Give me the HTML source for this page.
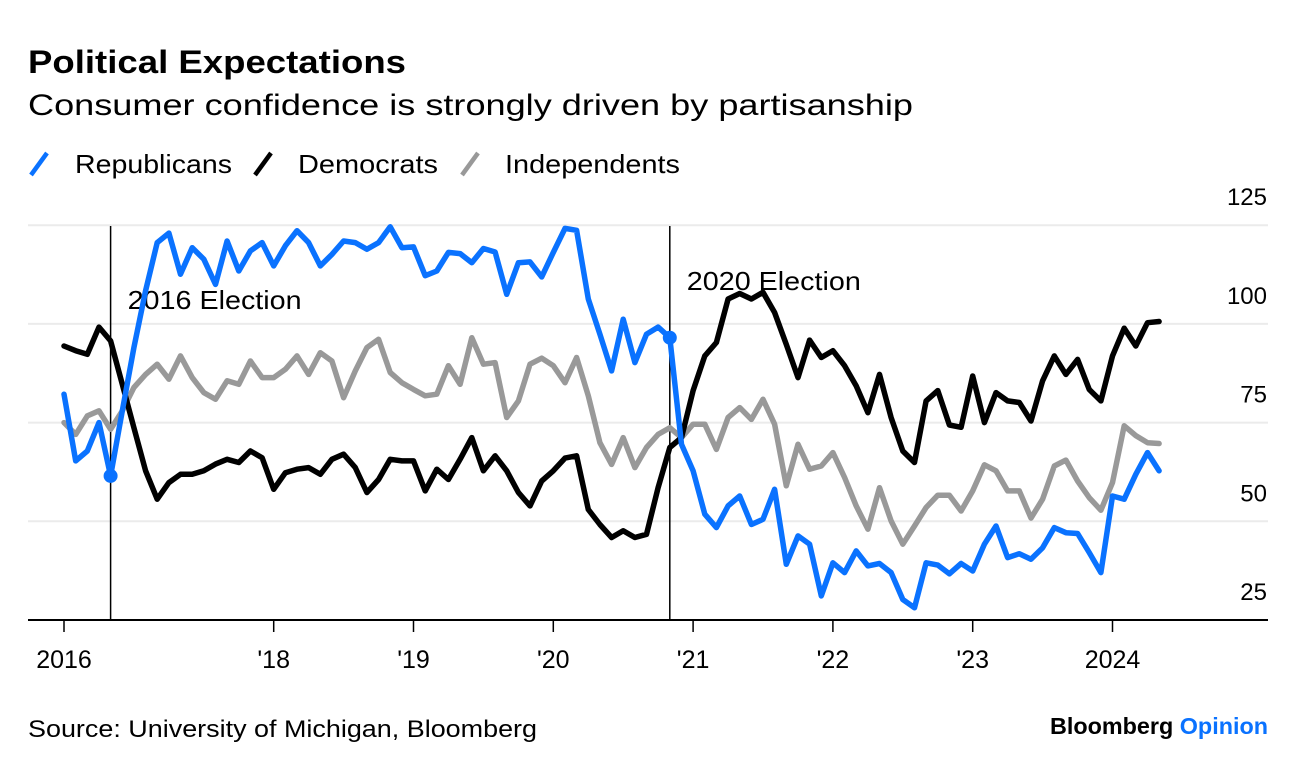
<!DOCTYPE html>
<html><head><meta charset="utf-8"><style>
body{margin:0;background:#fff;width:1296px;height:770px;overflow:hidden;font-family:"Liberation Sans",sans-serif}
</style></head><body>
<svg width="1296" height="770" xmlns="http://www.w3.org/2000/svg" font-family="Liberation Sans, sans-serif">
<text x="28" y="73" font-size="32" font-weight="bold" textLength="378" lengthAdjust="spacingAndGlyphs">Political Expectations</text>
<text x="28" y="115" font-size="30" textLength="885" lengthAdjust="spacingAndGlyphs">Consumer confidence is strongly driven by partisanship</text>
<g font-size="26">
<g><line x1="31" y1="175" x2="47" y2="153" stroke="#0a72ff" stroke-width="4.5"/><text x="75" y="173" textLength="157" lengthAdjust="spacingAndGlyphs">Republicans</text></g>
<g><line x1="255" y1="175" x2="271" y2="153" stroke="#000" stroke-width="4.5"/><text x="298" y="173" textLength="140" lengthAdjust="spacingAndGlyphs">Democrats</text></g>
<g><line x1="462" y1="175" x2="478" y2="153" stroke="#999" stroke-width="4.5"/><text x="505" y="173" textLength="175" lengthAdjust="spacingAndGlyphs">Independents</text></g>
</g>
<g id="grid"></g><g id="xaxis"></g><g id="ann"></g><g id="series"></g>
<text x="28" y="737" font-size="24" textLength="509" lengthAdjust="spacingAndGlyphs">Source: University of Michigan, Bloomberg</text>
<text x="1050" y="734" font-size="23" font-weight="bold" textLength="218" lengthAdjust="spacingAndGlyphs">Bloomberg <tspan fill="#0a72ff">Opinion</tspan></text>
</svg>
<script>
const yTicks=[25,50,75,100,125];
const xTickMonths=[0,18,30,42,54,66,78,90];
const xTickLabels=["2016","'18","'19","'20","'21","'22","'23","2024"];
const electionMonths=[4,52];
const electionLabels=["2016 Election","2020 Election"];
const republicans=[82.2,65.3,67.8,75,61.5,78,94,108.4,120.6,123,112.6,119.3,116.4,110,121,113.4,118.5,120.6,114.7,119.8,123.6,120.6,114.7,117.6,121,120.6,118.9,120.6,124.6,119.3,119.5,112.2,113.4,118.1,117.8,115.5,119.1,118.2,107.5,115.5,115.7,111.9,118.1,124.2,123.7,106.3,97.4,88.1,101.2,90.2,97.4,99.2,96.5,69.5,62.8,51.8,48.4,53.9,56.4,49.2,50.5,58.1,39.1,46.3,44.2,31.1,39.5,37,42.5,38.7,39.3,37,30.2,28.1,39.5,38.9,36.7,39.3,37.4,44.2,48.8,40.8,41.8,40.4,43.3,48.4,47.1,46.9,42.1,37,56.4,55.6,61.9,67.4,62.8];
const democrats=[94.4,93.2,92.3,99.2,95.7,84.7,73.7,62.8,55.6,59.8,61.9,61.9,62.8,64.5,65.7,64.9,67.8,66.1,58.1,62.3,63.2,63.6,61.9,65.7,67,63.6,57.3,60.6,65.7,65.3,65.3,57.7,63.2,60.6,65.7,71.2,62.8,66.6,62.8,57.3,53.9,60.2,62.8,66,66.6,53,49.2,45.9,47.6,45.9,46.7,58.5,68.7,71.2,83.1,91.9,95.3,106.3,107.7,106.3,108,102.9,94.8,86.4,95.9,91.5,93.2,89.4,84.3,77.5,87.2,76.3,67.8,64.9,80.5,83.1,74.4,73.8,86.8,75,82.6,80.5,80.1,75.4,85.6,91.9,87.2,91,83.4,80.5,91.9,98.9,94.4,100.3,100.6];
const independents=[75,72,76.7,78,73.3,78,83.9,87.2,89.8,86,91.9,86.4,82.6,80.9,85.6,84.7,90.6,86.4,86.4,88.5,91.9,87.2,92.7,90.6,81.3,88.1,94,96.1,87.7,85.1,83.4,81.8,82.2,89.4,84.7,96.5,89.8,90.2,76.3,80.5,89.8,91.3,89.4,85.1,91.5,81.8,69.9,64.4,71.2,63.6,68.7,72,73.7,71.2,74.6,74.6,68.2,76.3,78.8,75.8,80.9,74.6,59,69.5,63.2,64,67.4,61.1,53.9,48,58.5,50.1,44.2,48.8,53.5,56.6,56.6,52.6,57.7,64.3,62.8,57.7,57.7,50.8,55.6,64,65.5,60.2,56,52.8,59.8,74.2,71.7,69.9,69.7];
const NS="http://www.w3.org/2000/svg";
const xS=m=>64+m*11.65;
const yS=v=>620-(v-25)*3.948;
function mk(tag,attrs,parent,txt){const e=document.createElementNS(NS,tag);for(const k in attrs)e.setAttribute(k,attrs[k]);if(txt!==undefined)e.textContent=txt;parent.appendChild(e);return e;}
const grid=document.getElementById('grid');
yTicks.forEach(v=>{
  if(v>25){const l=mk('line',{x1:28,x2:1268,y1:yS(v),y2:yS(v),stroke:'#ebebeb','stroke-width':2},grid);
  
  }
  const t=mk('text',{x:1267,y:yS(v)-20,'font-size':24,'text-anchor':'end'},grid,String(v));
  
  
});
const xa=document.getElementById('xaxis');
const base=mk('line',{x1:28,x2:1268,y1:620,y2:620,stroke:'#000','stroke-width':2},xa);


xTickMonths.forEach((m,i)=>{
  const tk=mk('line',{x1:xS(m),x2:xS(m),y1:620,y2:632,stroke:'#000','stroke-width':1.5},xa);
  
  
  const t=mk('text',{x:xS(m),y:668,'font-size':25,'text-anchor':'middle'},xa,xTickLabels[i]);
  
  
});
const ann=document.getElementById('ann');
const labY=[309,290];
electionMonths.forEach((m,i)=>{
  const t=mk('text',{x:xS(m)+17,y:labY[i],'font-size':26,textLength:174,lengthAdjust:'spacingAndGlyphs'},ann,electionLabels[i]);
  
  
  const l=mk('line',{x1:xS(m),x2:xS(m),y1:226,y2:620,stroke:'#000','stroke-width':1.5},ann);
  
  
});
const ser=document.getElementById('series');
[[independents,'#999','independents-line'],[democrats,'#000','democrats-line'],[republicans,'#0a72ff','republicans-line']].forEach(([d,c,n])=>{
  const p=mk('polyline',{points:d.map((v,i)=>xS(i).toFixed(1)+','+yS(v).toFixed(1)).join(' '),fill:'none',stroke:c,'stroke-width':5.5,'stroke-linejoin':'round','stroke-linecap':'round'},ser);
  
  
});
electionMonths.forEach(m=>{
  const c=mk('circle',{cx:xS(m),cy:yS(republicans[m]),r:7,fill:'#0a72ff'},ser);
  
  
});
</script>
</body></html>
